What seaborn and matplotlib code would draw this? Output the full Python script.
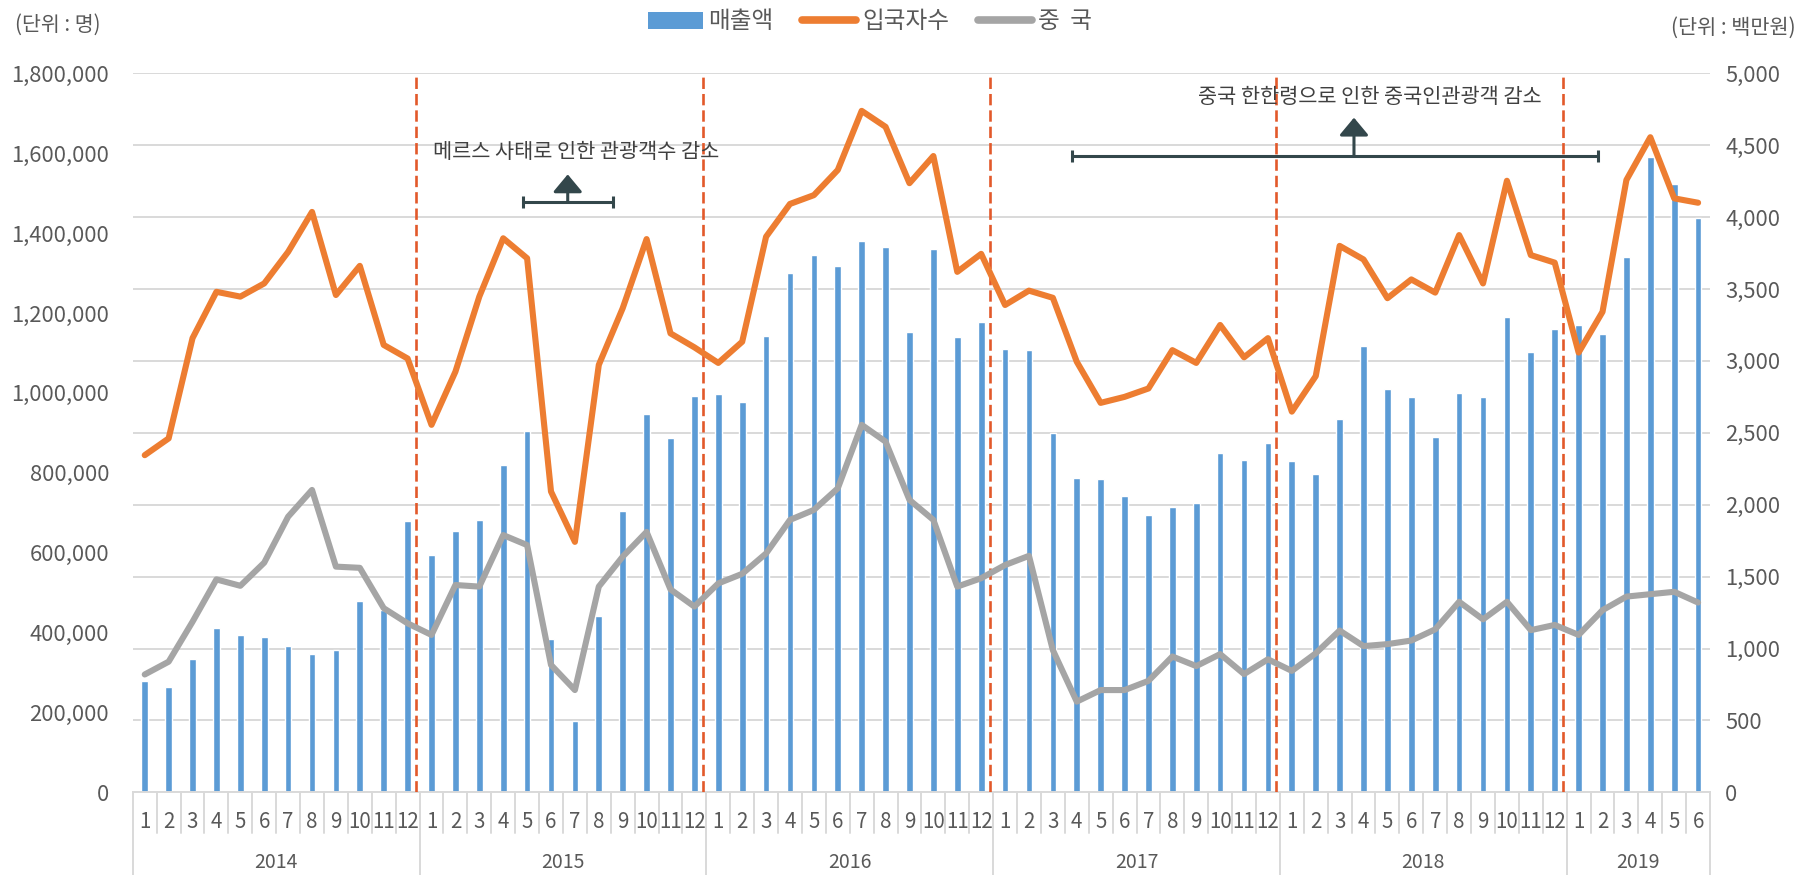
import numpy as np
import pandas as pd
import matplotlib
matplotlib.use('Agg')
import matplotlib.pyplot as plt
import seaborn as sns
from matplotlib.lines import Line2D
from matplotlib.patches import Patch
from matplotlib.ticker import FuncFormatter, MultipleLocator

sns.set_theme(style='white')
plt.rcParams['font.family'] = ['Noto Sans CJK KR', 'DejaVu Sans']

# 2014.1 ~ 2019.6 monthly data
years = ['2014', '2015', '2016', '2017', '2018', '2019']
months_per_year = [12, 12, 12, 12, 12, 6]
month_labels = [str(m) for n in months_per_year for m in range(1, n + 1)]

# 매출액 (백만원, right axis)
sales = [776, 730, 929, 1143, 1096, 1078, 1020, 964, 990, 1330, 1268, 1889,
         1648, 1819, 1896, 2276, 2510, 1064, 494, 1228, 1956, 2629, 2466, 2756,
         2768, 2716, 3173, 3609, 3736, 3660, 3836, 3790, 3199, 3778, 3168, 3273,
         3081, 3076, 2496, 2188, 2181, 2058, 1926, 1982, 2010, 2362, 2313, 2431,
         2306, 2211, 2594, 3106, 2802, 2747, 2469, 2779, 2751, 3307, 3064, 3220,
         3250, 3187, 3725, 4416, 4230, 3992]

# 입국자수 (명, left axis)
visitors = [844000, 886000, 1137000, 1253000, 1241000, 1274000, 1353000, 1453000, 1245000, 1318000, 1120000, 1086000,
            920000, 1053000, 1241000, 1387000, 1337000, 753000, 627000, 1070000, 1212000, 1385000, 1149000, 1114000,
            1075000, 1128000, 1391000, 1473000, 1495000, 1558000, 1706000, 1666000, 1525000, 1593000, 1303000, 1348000,
            1220000, 1256000, 1238000, 1078000, 975000, 990000, 1011000, 1107000, 1075000, 1170000, 1089000, 1137000,
            953000, 1042000, 1368000, 1334000, 1237000, 1284000, 1251000, 1395000, 1274000, 1531000, 1345000, 1326000,
            1101000, 1203000, 1533000, 1640000, 1487000, 1476000]

# 중국 입국자수 (명, left axis)
china = [295000, 327000, 427000, 533000, 517000, 575000, 690000, 757000, 565000, 562000, 461000, 423000,
         394000, 519000, 515000, 644000, 619000, 319000, 256000, 515000, 590000, 652000, 508000, 465000,
         523000, 547000, 598000, 682000, 707000, 761000, 920000, 878000, 732000, 682000, 515000, 536000,
         569000, 592000, 356000, 227000, 256000, 256000, 279000, 340000, 316000, 346000, 296000, 333000,
         304000, 348000, 405000, 366000, 371000, 380000, 408000, 477000, 433000, 477000, 406000, 419000,
         394000, 456000, 490000, 496000, 502000, 475000]

df = pd.DataFrame({'idx': np.arange(len(sales)), 'sales': sales,
                   'visitors': visitors, 'china': china})

BLUE = '#5B9BD5'
ORANGE = '#ED7D31'
GRAY = '#A5A5A5'
RED = '#E2592A'
DARK = '#33474B'
TICK = '#595959'

fig = plt.figure(figsize=(18.14, 8.75), dpi=100)
ax = fig.add_axes([0.0732, 0.0945, 0.8695, 0.8217])
ax2 = ax.twinx()

# bars on right axis
sns.barplot(data=df, x='idx', y='sales', ax=ax2, color=BLUE, width=0.28,
            native_scale=True, saturation=1, zorder=2)

# lines on left axis
sns.lineplot(data=df, x='idx', y='visitors', ax=ax, color=ORANGE, lw=4.4,
             solid_joinstyle='round', solid_capstyle='round', zorder=4)
sns.lineplot(data=df, x='idx', y='china', ax=ax, color=GRAY, lw=4.4,
             solid_joinstyle='round', solid_capstyle='round', zorder=4)

ax.set_zorder(ax2.get_zorder() + 1)
ax.patch.set_visible(False)

n = len(sales)
ax.set_xlim(-0.5, n - 0.5)
ax.set_ylim(0, 1800000)
ax2.set_ylim(0, 5000)

ax.yaxis.set_major_locator(MultipleLocator(200000))
ax2.yaxis.set_major_locator(MultipleLocator(500))
fmt = FuncFormatter(lambda v, p: f'{v:,.0f}')
ax.yaxis.set_major_formatter(fmt)
ax2.yaxis.set_major_formatter(fmt)
ax.tick_params(axis='y', length=0, pad=17, labelsize=15.8, labelcolor=TICK)
ax2.tick_params(axis='y', length=0, pad=11, labelsize=15.8, labelcolor=TICK)
ax.set_xticks([])
ax2.set_xticks([])
ax.set_xlabel('')
ax.set_ylabel('')
ax2.set_xlabel('')
ax2.set_ylabel('')

ax2.yaxis.grid(True, color='#D9D9D9', lw=1.4)
ax2.set_axisbelow(True)
for a in (ax, ax2):
    for s in a.spines.values():
        s.set_visible(False)
ax2.spines['bottom'].set_visible(True)
ax2.spines['bottom'].set_color('#D9D9D9')
ax2.spines['bottom'].set_linewidth(1.4)

# year boundary dashed lines
starts = np.cumsum([0] + months_per_year)
for b in starts[1:-1]:
    ax.axvline(b - 0.65, ymin=0, ymax=1, color=RED, lw=1.9,
               linestyle=(0, (4.3, 1.9)), zorder=3)

# two-level category axis
xt = ax.get_xaxis_transform()
for i, lab in enumerate(month_labels):
    ax.text(i, -0.041, lab, transform=xt, ha='center', va='center',
            fontsize=14.8, color=TICK, clip_on=False)
for b in range(n + 1):
    low = -0.115 if b in starts else -0.057
    ax.plot([b - 0.5, b - 0.5], [0, low], transform=xt, color='#D9D9D9',
            lw=1.4, clip_on=False)
for y, s, m in zip(years, starts[:-1], months_per_year):
    ax.text(s + (m - 1) / 2, -0.097, y, transform=xt, ha='center',
            va='center', fontsize=14, color=TICK, clip_on=False)

# annotations
ax.text(18.05, 1603000, '메르스 사태로 인한 관광객수 감소', ha='center',
        va='center', fontsize=15, color='#404040')
ax.plot([15.84, 19.58], [1477000, 1477000], color=DARK, lw=2.2,
        marker='|', markersize=9, markeredgewidth=2.2)
ax.annotate('', xy=(17.70, 1547000), xytext=(17.70, 1477000),
            arrowprops=dict(arrowstyle='-|>,head_length=0.9,head_width=0.75',
                            mutation_scale=12, color=DARK, lw=2.2,
                            shrinkA=0, shrinkB=0))

ax.text(51.27, 1741000, '중국 한한령으로 인한 중국인관광객 감소', ha='center',
        va='center', fontsize=15, color='#404040')
ax.plot([38.8, 60.8], [1594000, 1594000], color=DARK, lw=2.2,
        marker='|', markersize=9, markeredgewidth=2.2)
ax.annotate('', xy=(50.6, 1689000), xytext=(50.6, 1594000),
            arrowprops=dict(arrowstyle='-|>,head_length=0.9,head_width=0.75',
                            mutation_scale=12, color=DARK, lw=2.2,
                            shrinkA=0, shrinkB=0))

# unit labels
fig.text(15 / 1814, 1 - 25 / 875, '(단위 : 명)', ha='left', va='center',
         fontsize=14.8, color=TICK)
fig.text(1796 / 1814, 1 - 28 / 875, '(단위 : 백만원)', ha='right',
         va='center', fontsize=15, color=TICK)

# legend
handles = [Patch(facecolor=BLUE, edgecolor='none'),
           Line2D([], [], color=ORANGE, lw=5.5, solid_capstyle='round'),
           Line2D([], [], color=GRAY, lw=5.5, solid_capstyle='round')]
fig.legend(handles, ['매출액', '입국자수', '중  국'], loc='center',
           bbox_to_anchor=(870 / 1814, 1 - 22 / 875), ncol=3, frameon=False,
           fontsize=17, handlelength=2.3, handleheight=0.7,
           handletextpad=0.25, columnspacing=1.2, labelcolor=TICK)

fig.savefig('out.png', dpi=100)
